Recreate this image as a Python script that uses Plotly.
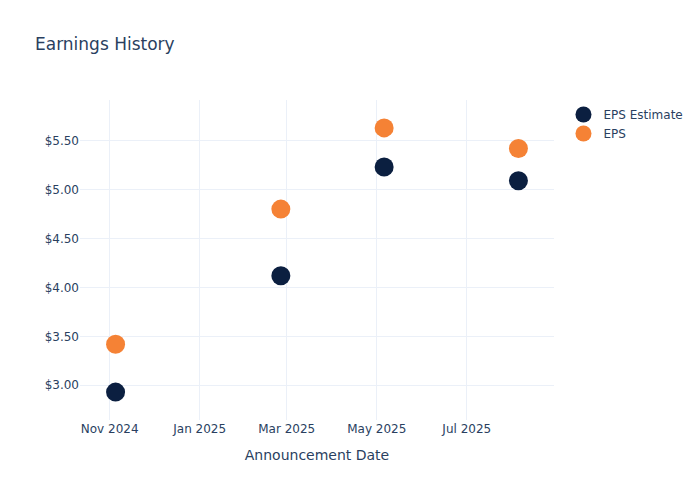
import plotly.graph_objects as go

dates = ["2024-11-05", "2025-02-25", "2025-05-06", "2025-08-05"]
eps_estimate = [2.93, 4.12, 5.23, 5.09]
eps_actual = [3.42, 4.80, 5.63, 5.42]

fig = go.Figure()
fig.add_trace(go.Scatter(x=dates, y=eps_estimate, mode="markers", name="EPS Estimate",
                         marker=dict(color="#0b1f40", size=19)))
fig.add_trace(go.Scatter(x=dates, y=eps_actual, mode="markers", name="EPS",
                         marker=dict(color="#f58235", size=19)))
fig.update_layout(
    template="plotly_white",
    font=dict(family="DejaVu Sans"),
    title=dict(text="Earnings History"),
    width=700, height=500,
    xaxis=dict(title=dict(text="Announcement Date"), dtick="M2", tickformat="%b %Y"),
    yaxis=dict(tickformat="$.2f"),
)
fig.write_html("out.html", config={"displayModeBar": False},
               post_script="document.body.style.margin='0';")
